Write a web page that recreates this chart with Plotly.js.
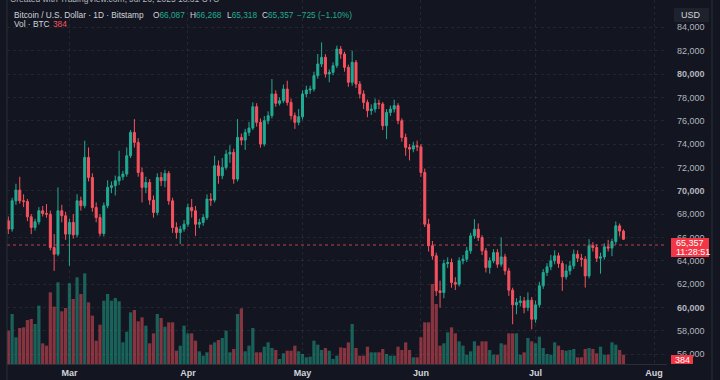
<!DOCTYPE html>
<html>
<head>
<meta charset="utf-8">
<script src="https://cdn.plot.ly/plotly-3.0.1.min.js"></script>
<style>
html,body{margin:0;padding:0;background:#131620;}
#chart{width:720px;height:380px;}
</style>
</head>
<body>
<div id="chart"></div>
<script>
// Daily candles, Feb 13 2025 -> Jul 24 2025
const startDate = '2025-02-13';
const candleCount = 162;

const openPrices = [67430,66720,69140,70060,69140,69090,67770,66860,67340,68290,
68060,68000,65140,64570,68290,67860,66290,67290,66230,69140,
68720,72860,71140,68570,67710,66340,68720,70290,70430,70860,
71200,71430,73000,75000,74140,71570,70290,70710,69200,68140,
71140,70860,71490,69140,66860,66430,66720,67140,68570,68290,
67140,67290,67710,69290,69200,72140,71290,72000,73140,73290,
71000,74570,74340,75000,75370,77200,75860,74000,76000,76430,
78290,77490,77710,78710,77570,76430,75860,76340,78290,78630,
78710,79860,80860,81430,80000,80140,80710,82140,81710,80570,
79290,81000,79140,78290,77570,76860,77000,77490,77430,75570,
76710,77000,77290,76000,74570,73710,73570,73860,73770,71570,
67140,65290,64430,61430,61290,63770,63860,62140,62000,64000,
64140,64860,66140,66710,66000,64860,63430,64000,64710,63710,
64340,63140,61490,60230,60430,60570,60000,60630,59000,60230,
61860,63000,63490,64000,64430,63770,62630,63140,63570,64570,
64230,64140,62710,65290,65140,64230,64340,65200,65090,65660,
67000,66550];

const highPrices = [67800,69400,70600,71200,69700,69300,68000,67600,68600,68700,
68860,68300,66300,70290,68800,68200,67600,68000,69710,69500,
74290,73710,71500,69000,68000,69000,70900,70800,71300,73430,
71700,73710,75200,76140,74500,72000,71200,71000,69600,71500,
71600,71800,71700,69400,67300,67000,67500,68900,69300,68700,
67600,68000,69700,69800,73000,72600,72800,73500,73900,73600,
76140,74900,75300,75900,77570,77500,76200,76400,76800,79570,
78600,78000,79100,79430,77900,76700,77000,78600,79000,79000,
80200,81710,82710,81700,80400,81000,82430,82400,81900,80800,
82000,81200,79400,78600,77800,77400,77900,77800,77600,77000,
77300,77800,77500,76200,74900,74000,74200,74300,74000,71900,
67600,65700,64700,62300,64100,64300,64200,62600,64300,64500,
65200,66400,67570,67200,66200,65100,64300,65000,65000,66000,
64600,63400,61700,60800,61000,60900,61300,60900,60600,62200,
63300,63800,64500,64900,64700,64000,63700,64000,64970,64900,
64600,64400,65860,65600,65400,64700,65500,65800,65900,67370,
67200,66700];

const lowPrices = [66300,66500,68800,68900,68600,67400,66290,66600,67100,67800,
67700,64900,63140,64400,67300,65800,63570,65900,66000,68300,
68500,70800,68200,67300,66100,66100,68500,69800,69600,70500,
70900,71200,72800,73700,71200,69000,69800,68800,67700,67900,
70400,70300,68800,66400,65900,65430,66500,66900,67700,66140,
66800,67000,67500,68700,69000,70600,71000,71800,72400,70600,
70800,73900,73500,74700,75200,75500,73700,73800,75700,76200,
77200,77300,77500,77300,76100,75300,75600,76100,78000,78300,
78500,79600,80600,79700,79290,79900,80500,81300,80200,78900,
79000,78800,77900,77000,76300,76500,76700,77000,75200,74430,
76400,76700,75700,74200,73000,72600,73300,73400,71200,66900,
64800,64100,61000,60000,60800,63400,61700,61500,61800,63700,
63900,64600,65900,65700,64500,63000,62900,63800,63400,63500,
62800,61000,58570,59430,60100,59500,59700,58140,58700,60000,
61600,62700,63200,63700,63400,61430,62400,62800,63300,63900,
63500,61710,62500,64800,63900,62900,64100,64800,64400,65400,
66100,65800];

const closePrices = [66720,69140,70060,69140,69090,67770,66860,67340,68290,68060,
68000,65140,64570,68290,67860,66290,67290,66230,69140,68720,
72860,71140,68570,67710,66340,68720,70290,70430,70860,71200,
71430,73000,75000,74140,71570,70290,70710,69200,68140,71140,
70860,71490,69140,66860,66430,66720,67140,68570,68290,67140,
67290,67710,69290,69200,72140,71290,72000,73140,73290,71000,
74570,74340,75000,75370,77200,75860,74000,76000,76430,78290,
77490,77710,78710,77570,76430,75860,76340,78290,78630,78710,
79860,80860,81430,80000,80140,80710,82140,81710,80570,79290,
81000,79140,78290,77570,76860,77000,77490,77430,75570,76710,
77000,77290,76000,74570,73710,73570,73860,73770,71570,67140,
65290,64430,61430,61290,63770,63860,62140,62000,64000,64140,
64860,66140,66710,66000,64860,63430,64000,64710,63710,64340,
63140,61490,60230,60430,60570,60000,60630,59000,60230,61860,
63000,63490,64000,64430,63770,62630,63140,63570,64570,64230,
64140,62710,65290,65140,64230,64340,65200,65090,65660,67000,
66550,65850];

const volumeBTC = [1370,2055,1096,1480,1507,1808,1850,1644,2398,849,
754,2946,2356,3357,2165,2302,3315,2672,3562,2877,
3726,2535,1987,959,1617,2603,2877,2603,2713,2576,
891,1329,2124,2219,1754,1918,1576,849,1260,2055,
1891,1534,1713,1713,548,754,1576,1260,1260,959,
521,343,480,795,891,986,1069,1370,480,617,
2055,2288,521,754,1480,480,480,712,891,658,
575,206,438,548,548,754,521,411,274,301,
959,795,575,658,548,206,343,685,658,891,
1644,658,343,343,712,480,480,480,617,411,
343,343,712,575,891,575,274,274,1096,1713,
1713,3288,2466,754,849,1302,1507,1260,932,754,
384,521,932,754,932,932,575,384,384,849,
795,1260,1260,1260,384,480,1069,932,849,1123,
658,411,384,891,754,575,548,575,617,274,
274,617,658,617,438,712,384,384,891,795,
575,384];

const priceTicks = [56000,58000,60000,62000,64000,66000,68000,70000,72000,74000,76000,78000,80000,82000,84000];
const boldTicks = [60000,70000,80000];
const monthTicks = ['2025-03-01','2025-04-01','2025-05-01','2025-06-01','2025-07-01','2025-08-01'];
const monthLabels = ['Mar','Apr','May','Jun','Jul','Aug'];
const lastPrice = 65357;
const lastVolume = 384;

// build dates
const dates = [];
const s = new Date(startDate + 'T00:00:00Z');
for (let i = 0; i < candleCount; i++) {
  const d = new Date(s.getTime() + i * 86400000);
  dates.push(d.toISOString().slice(0, 10));
}

const UP = '#22ab94', DOWN = '#f7525f';
const volColors = closePrices.map((c, i) => c >= openPrices[i] ? 'rgba(34,171,148,0.5)' : 'rgba(247,82,95,0.5)');

const fmt = v => v.toLocaleString('en-US');

const W = 720, H = 380, ML = 7, MR = 53, MT = 0, MB = 16;
const PW = W - ML - MR, PH = H - MT - MB;
const px = x => (x - ML) / PW;
const py = y => 1 - (y - MT) / PH;

const FONT = 'Liberation Sans, Arial, sans-serif';

const traces = [
  {
    type: 'bar', x: dates, y: volumeBTC, yaxis: 'y', xaxis: 'x',
    marker: {color: volColors, line: {width: 0}}, hoverinfo: 'skip', showlegend: false
  },
  {
    type: 'candlestick', x: dates, open: openPrices, high: highPrices, low: lowPrices, close: closePrices,
    yaxis: 'y2', xaxis: 'x',
    increasing: {line: {color: UP, width: 1}, fillcolor: UP},
    decreasing: {line: {color: DOWN, width: 1}, fillcolor: DOWN},
    whiskerwidth: 0, hoverinfo: 'skip', showlegend: false
  }
];

const ann = [];
function txt(text, x, y, color, size, anchor, extra) {
  ann.push(Object.assign({
    text: text, xref: 'paper', yref: 'paper', x: px(x), y: py(y),
    xanchor: anchor || 'left', yanchor: 'middle', showarrow: false,
    font: {family: FONT, size: size || 9, color: color}
  }, extra || {}));
}
const HS = 8.3;
txt('Created with TradingView.com, Jul 26, 2025 18:31 UTC', 8, -1, '#b2b5be', 8.5);
txt('Bitcoin / U.S. Dollar · 1D · Bitstamp', 12, 15, '#d1d4dc', HS);
txt('O<span style="color:' + UP + '">66,087</span>', 151, 15, '#d1d4dc', HS);
txt('H<span style="color:' + UP + '">66,268</span>', 188, 15, '#d1d4dc', HS);
txt('L<span style="color:' + UP + '">65,318</span>', 225, 15, '#d1d4dc', HS);
txt('C<span style="color:' + UP + '">65,357</span>', 260, 15, '#d1d4dc', HS);
txt('−725 (−1.10%)', 295, 15, UP, HS);
txt('Vol · BTC', 12, 24, '#d1d4dc', HS);
txt(String(lastVolume), 51, 24, DOWN, HS);
txt('USD', 691, 15, '#d1d4dc', 9, 'center');
txt(fmt(lastPrice), 674, 243, '#ffffff', 9);
txt('11:28:51', 674, 252, '#ffffff', 9);
txt(String(lastVolume), 682, 359.5, '#ffffff', 9, 'center');

const shapes = [
  {type: 'line', xref: 'paper', yref: 'y2', x0: 0, x1: 1, y0: lastPrice, y1: lastPrice,
   line: {color: 'rgba(247,82,95,0.75)', width: 1, dash: 'dot'}},
  {type: 'rect', xref: 'paper', yref: 'paper', x0: px(674), x1: px(709), y0: py(22), y1: py(8),
   fillcolor: '#1e222d', line: {width: 0}, layer: 'above'},
  {type: 'rect', xref: 'paper', yref: 'paper', x0: px(671), x1: px(709), y0: py(257), y1: py(238),
   fillcolor: '#f23645', line: {width: 0}, layer: 'above'},
  {type: 'rect', xref: 'paper', yref: 'paper', x0: px(671), x1: px(693), y0: py(364), y1: py(355),
   fillcolor: '#f23645', line: {width: 0}, layer: 'above'},
  {type: 'line', xref: 'paper', yref: 'paper', x0: 0, x1: 0, y0: py(380), y1: 1,
   line: {color: '#2a2e39', width: 1}},
  {type: 'line', xref: 'paper', yref: 'paper', x0: px(712), x1: px(712), y0: py(380), y1: 1,
   line: {color: '#2a2e39', width: 1}}
];

const layout = {
  width: W, height: H,
  margin: {l: ML, r: MR, t: MT, b: MB, pad: 0},
  paper_bgcolor: '#131620', plot_bgcolor: '#131620',
  showlegend: false,
  bargap: 0.15, boxgap: 0.25,
  font: {family: FONT, size: 9, color: '#b2b5be'},
  xaxis: {
    type: 'date', range: ['2025-02-12 15:50', '2025-08-04 09:36'],
    rangeslider: {visible: false},
    tickvals: monthTicks, ticktext: monthLabels.map(m => '<b>' + m + '</b>'),
    tickfont: {family: FONT, size: 9, color: '#d1d4dc'},
    showgrid: true, gridcolor: 'rgba(255,255,255,0.07)', griddash: 'dot', gridwidth: 1,
    showline: true, linecolor: '#2a2e39', linewidth: 1,
    ticks: '', zeroline: false, fixedrange: true
  },
  yaxis: {
    range: [0, 14960], visible: false, showgrid: false, zeroline: false, fixedrange: true
  },
  yaxis2: {
    overlaying: 'y', side: 'right',
    range: [55167, 86337],
    tickvals: priceTicks,
    ticktext: priceTicks.map(v => boldTicks.includes(v) ? '<b>' + fmt(v) + '</b>' : fmt(v)),
    tickfont: {family: FONT, size: 9, color: '#b2b5be'},
    showgrid: true, gridcolor: 'rgba(255,255,255,0.07)', griddash: 'dot', gridwidth: 1,
    ticks: '', ticklabelstandoff: 9, zeroline: false, showline: false, fixedrange: true
  },
  annotations: ann,
  shapes: shapes
};

Plotly.newPlot('chart', traces, layout, {displayModeBar: false, staticPlot: true});
</script>
</body>
</html>
